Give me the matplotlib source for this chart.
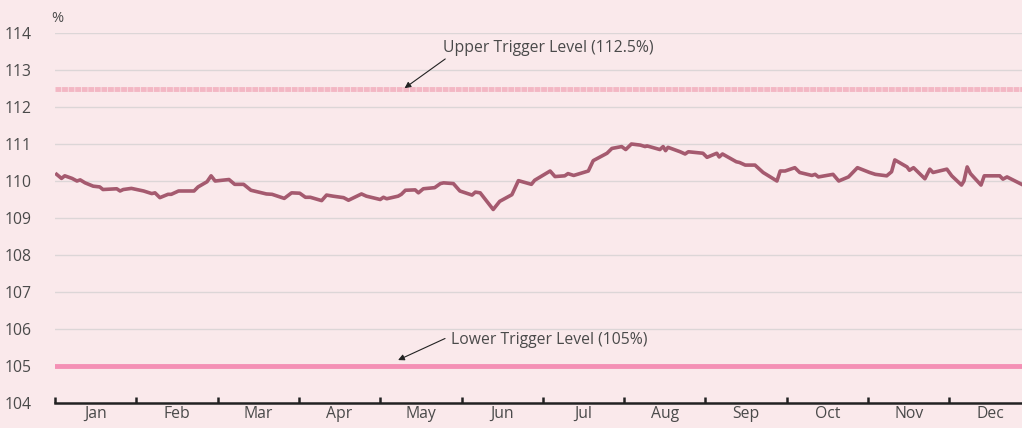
import numpy as np
import matplotlib.pyplot as plt

plt.rcParams['font.family'] = ['Open Sans', 'DejaVu Sans']

# month position (0 = start of Jan) and ratio in %
month_pos = [0.02, 0.08, 0.12, 0.21, 0.27, 0.31, 0.37, 0.47, 0.55, 0.59, 0.76, 0.80, 0.84, 0.94,
             1.09, 1.19, 1.23, 1.29, 1.39, 1.43, 1.52, 1.71, 1.76, 1.87, 1.92, 1.97, 2.05, 2.14,
             2.21, 2.32, 2.41, 2.60, 2.67, 2.82, 2.91, 3.01, 3.08, 3.14, 3.28, 3.34, 3.42, 3.55,
             3.61, 3.77, 3.83, 4.00, 4.04, 4.08, 4.22, 4.26, 4.31, 4.43, 4.47, 4.53, 4.67, 4.74,
             4.78, 4.90, 4.98, 5.13, 5.17, 5.23, 5.39, 5.47, 5.62, 5.70, 5.86, 5.90, 6.09, 6.15,
             6.27, 6.31, 6.38, 6.56, 6.62, 6.79, 6.85, 6.97, 7.02, 7.09, 7.20, 7.26, 7.28, 7.44,
             7.48, 7.51, 7.54, 7.69, 7.75, 7.79, 7.97, 8.02, 8.14, 8.17, 8.21, 8.38, 8.42, 8.49,
             8.61, 8.71, 8.88, 8.92, 8.98, 9.10, 9.16, 9.31, 9.35, 9.39, 9.57, 9.64, 9.76, 9.87,
             10.02, 10.09, 10.23, 10.29, 10.33, 10.48, 10.51, 10.56, 10.70, 10.76, 10.80, 10.97,
             11.03, 11.15, 11.18, 11.22, 11.26, 11.39, 11.43, 11.62, 11.66, 11.71, 11.89]
ratio = [110.18, 110.07, 110.14, 110.07, 110.00, 110.03, 109.95, 109.86, 109.84, 109.77, 109.79,
         109.73, 109.77, 109.80, 109.73, 109.66, 109.68, 109.55, 109.64, 109.64, 109.73, 109.73,
         109.84, 109.98, 110.14, 110.00, 110.02, 110.04, 109.91, 109.91, 109.75, 109.65, 109.64,
         109.53, 109.68, 109.67, 109.56, 109.56, 109.47, 109.62, 109.59, 109.55, 109.48, 109.65,
         109.59, 109.50, 109.56, 109.52, 109.59, 109.64, 109.75, 109.76, 109.68, 109.79, 109.82,
         109.93, 109.95, 109.93, 109.73, 109.62, 109.70, 109.68, 109.23, 109.45, 109.63, 110.01,
         109.91, 110.02, 110.27, 110.12, 110.14, 110.20, 110.15, 110.27, 110.55, 110.75, 110.88,
         110.93, 110.85, 111.00, 110.97, 110.93, 110.95, 110.85, 110.93, 110.82, 110.91, 110.79,
         110.73, 110.79, 110.75, 110.64, 110.75, 110.65, 110.73, 110.52, 110.50, 110.43, 110.43,
         110.23, 110.00, 110.27, 110.27, 110.36, 110.23, 110.15, 110.18, 110.11, 110.18, 110.00,
         110.11, 110.36, 110.23, 110.18, 110.14, 110.25, 110.57, 110.38, 110.29, 110.36, 110.06,
         110.32, 110.23, 110.32, 110.14, 109.89, 110.00, 110.38, 110.20, 109.89, 110.14, 110.14,
         110.05, 110.11, 109.91]

months = ['Jan', 'Feb', 'Mar', 'Apr', 'May', 'Jun', 'Jul', 'Aug', 'Sep', 'Oct', 'Nov', 'Dec']
upper_level = 112.5
lower_level = 105.0

bg = '#FAE9EB'
txt = '#4a4a4a'
fs = 11.3

fig = plt.figure(figsize=(10.22, 4.28), dpi=100, facecolor=bg)
ax = fig.add_axes([55 / 1022, 25 / 428, 1 - 55 / 1022, 370 / 428], facecolor=bg)

ax.set_xlim(0, (1022 - 55) / 81.3)
ax.set_ylim(104, 114)

for v in range(104, 115):
    ax.axhline(v, color='#dcd6d7', lw=1, zorder=1)

# faint dash pattern on the upper line
ax.axhline(upper_level, color='#F3B7C4', lw=3.5, ls=(0, (1.2, 0.15)), zorder=2)
ax.axhline(lower_level, color='#F490B5', lw=3.5, zorder=2)

ax.plot(month_pos, ratio, color='#A55A6F', lw=2.6, zorder=3, solid_joinstyle='round')

ax.annotate('Upper Trigger Level (112.5%)', xy=(4.30, 112.51), xytext=(4.77, 113.59),
            fontsize=fs, color=txt, va='center', ha='left',
            arrowprops=dict(arrowstyle='-|>', color='#222222', lw=0.8,
                            shrinkA=0, shrinkB=0, mutation_scale=9,
                            relpos=(0.03, 0.0)))
ax.annotate('Lower Trigger Level (105%)', xy=(4.22, 105.16), xytext=(4.87, 105.70),
            fontsize=fs, color=txt, va='center', ha='left',
            arrowprops=dict(arrowstyle='-|>', color='#222222', lw=0.8,
                            shrinkA=0, shrinkB=0, mutation_scale=9,
                            relpos=(-0.03, 0.6)))

for s in ['top', 'right', 'left']:
    ax.spines[s].set_visible(False)
ax.spines['bottom'].set_color('#222222')
ax.spines['bottom'].set_linewidth(1.8)

ax.set_xticks(range(0, 12))
ax.set_xticklabels([])
ax.set_xticks(np.arange(12) + 0.5, minor=True)
ax.set_xticklabels(months, minor=True)
ax.tick_params(axis='x', which='major', direction='in', length=4, width=1.8, color='#222222')
ax.tick_params(axis='x', which='minor', length=0, pad=2, labelsize=fs, labelcolor=txt)

ax.set_yticks(range(104, 115))
ax.tick_params(axis='y', length=0, pad=17, labelsize=fs, labelcolor=txt)

fig.text(57 / 1022, 1 - 18 / 428, '%', fontsize=10.5, color=txt, va='center', ha='center')

fig.savefig('out.png', dpi=100, facecolor=bg)
